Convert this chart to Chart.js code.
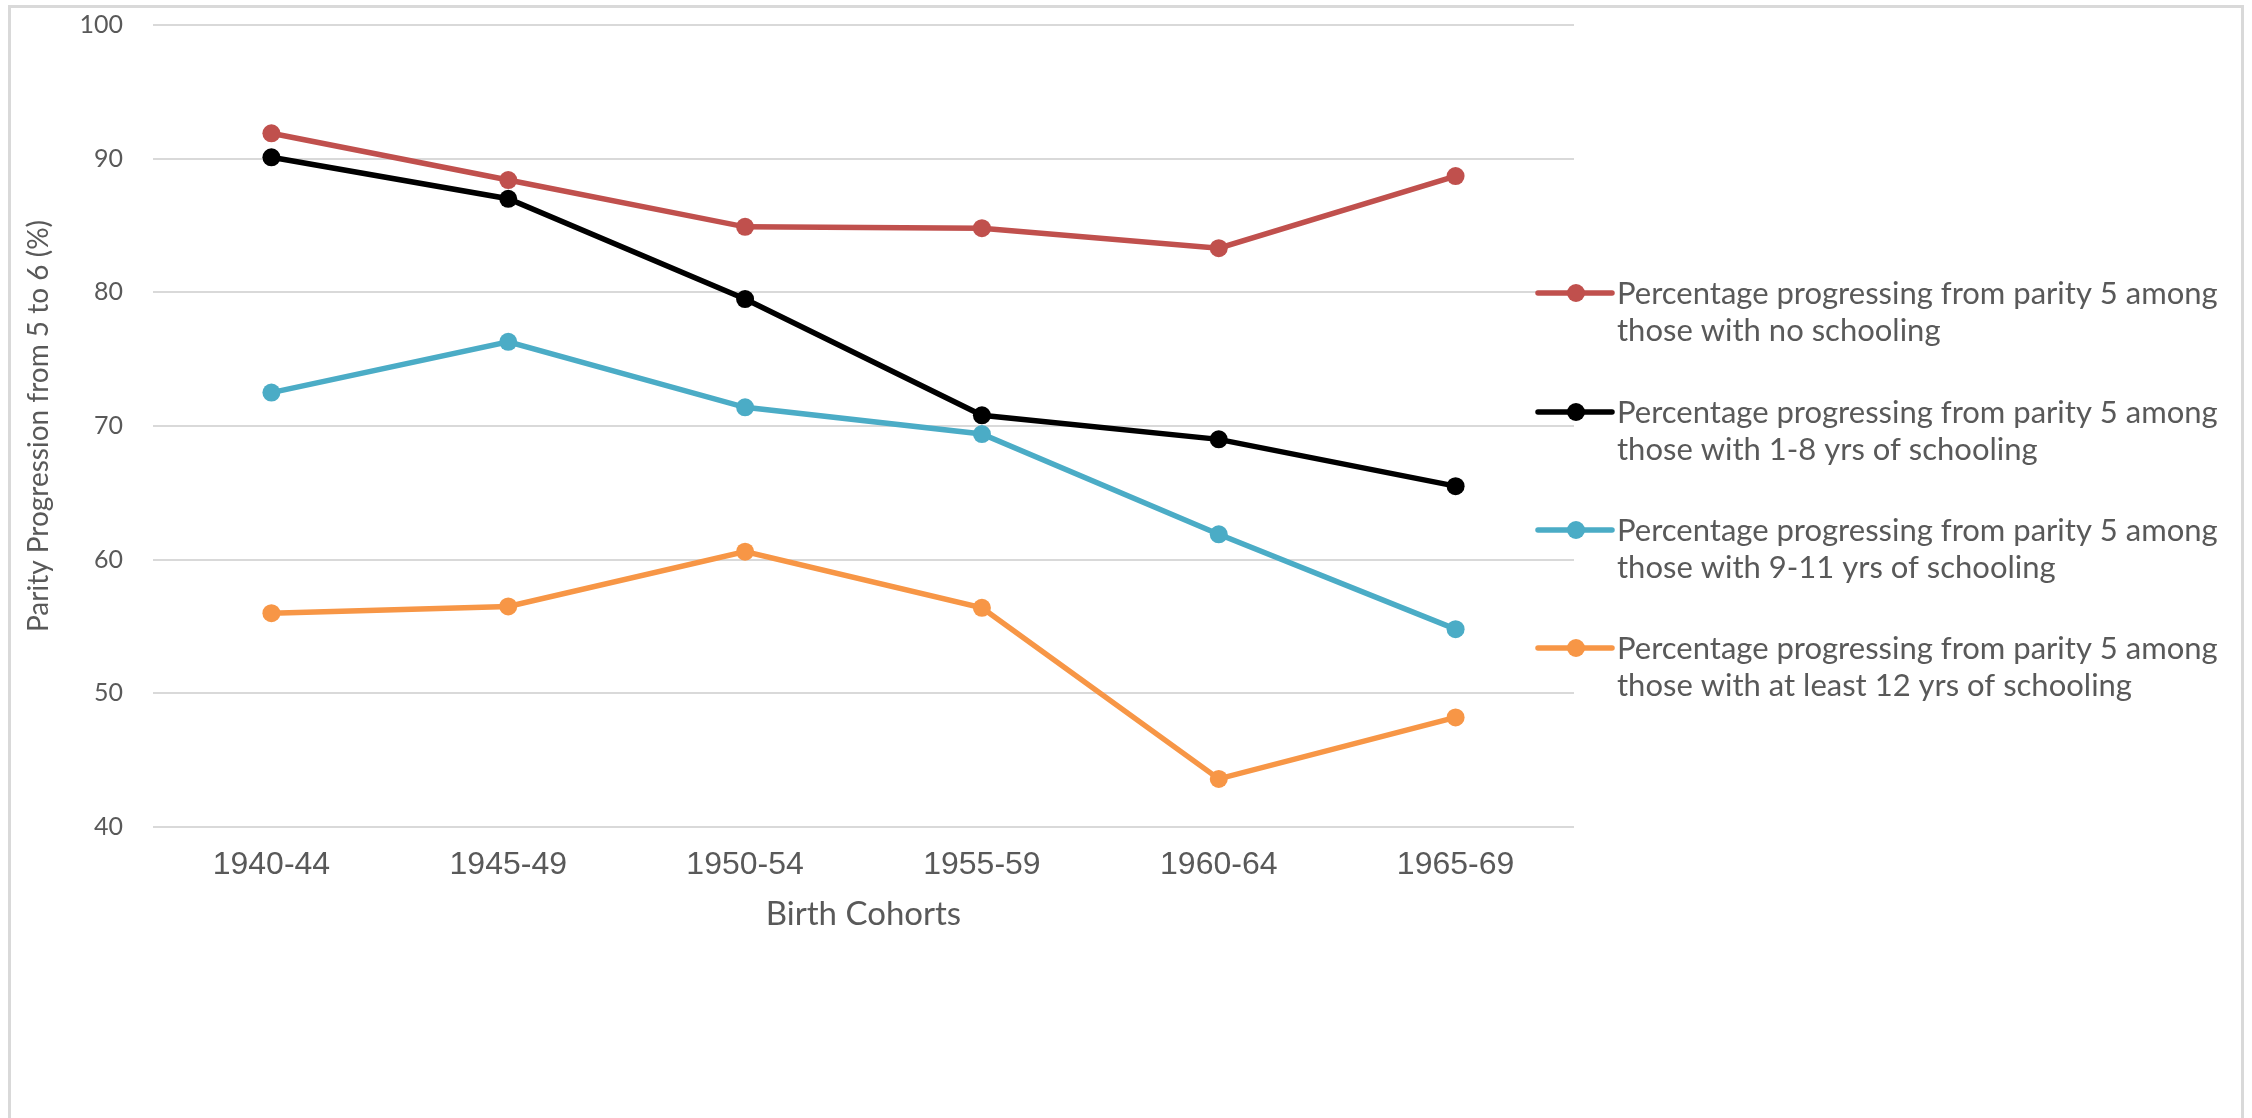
<!DOCTYPE html>
<html>
<head>
<meta charset="utf-8">
<title>Parity Progression from 5 to 6</title>
<script src="https://cdn.jsdelivr.net/npm/chart.js@4.4.1/dist/chart.umd.min.js"></script>
<style>
    html, body { margin: 0; padding: 0; background: #fff; overflow: hidden; }
    .frame {
        position: absolute; left: 8px; top: 5px; width: 2230px; height: 1200px;
        border: 3px solid #d9d9d9; border-bottom: none;
    }
    #canv-chart { position: absolute; left: 0; top: 0; }
</style>
</head>
<body>
<div class="frame"></div>
<canvas id="canv-chart" width="2252" height="1118"></canvas>
<script>
var cohorts = ['1940-44', '1945-49', '1950-54', '1955-59', '1960-64', '1965-69'];

var noSchooling = [91.9, 88.4, 84.9, 84.8, 83.3, 88.7];
var school1to8 = [90.1, 87.0, 79.5, 70.8, 69.0, 65.5];
var school9to11 = [72.5, 76.3, 71.4, 69.4, 61.9, 54.8];
var school12plus = [56.0, 56.5, 60.6, 56.4, 43.6, 48.2];

var seriesLabels = [
    ['Percentage progressing from parity 5 among', 'those with no schooling'],
    ['Percentage progressing from parity 5 among', 'those with 1-8 yrs of schooling'],
    ['Percentage progressing from parity 5 among', 'those with 9-11 yrs of schooling'],
    ['Percentage progressing from parity 5 among', 'those with at least 12 yrs of schooling']
];
var seriesColors = ['#C0504D', '#000000', '#4BACC6', '#F79646'];

var yTicks = [40, 50, 60, 70, 80, 90, 100];

var textGray = '#595959';
var gridGray = '#d9d9d9';

function makeSeries(i, values) {
    return {
        label: seriesLabels[i].join(' '),
        data: values,
        borderColor: seriesColors[i],
        backgroundColor: seriesColors[i],
        borderWidth: 5.5,
        pointRadius: 9,
        pointBorderWidth: 0,
        pointHoverRadius: 9,
        tension: 0,
        // later series sit on top, like the spreadsheet original
        order: 4 - i
    };
}

// legend on the right, two lines of text per series
var sideLegend = {
    id: 'sideLegend',
    afterDraw: function(chart) {
        var ctx = chart.ctx;
        var rows = [293, 412, 530, 648];
        ctx.save();
        for (var i = 0; i < seriesLabels.length; i++) {
            var y = rows[i];
            ctx.strokeStyle = seriesColors[i];
            ctx.lineWidth = 5.5;
            ctx.lineCap = 'round';
            ctx.beginPath();
            ctx.moveTo(1538, y);
            ctx.lineTo(1612, y);
            ctx.stroke();
            ctx.fillStyle = seriesColors[i];
            ctx.beginPath();
            ctx.arc(1576, y, 9, 0, Math.PI * 2);
            ctx.fill();

            ctx.fillStyle = textGray;
            ctx.font = '31px Lato';
            ctx.textAlign = 'left';
            ctx.textBaseline = 'middle';
            ctx.fillText(seriesLabels[i][0], 1617, y + 1);
            ctx.fillText(seriesLabels[i][1], 1617, y + 38);
        }
        ctx.restore();
    }
};

var ctx = document.getElementById('canv-chart');

var myChart = new Chart(ctx, {
    type: 'line',
    data: {
        labels: cohorts,
        datasets: [
            makeSeries(0, noSchooling),
            makeSeries(1, school1to8),
            makeSeries(2, school9to11),
            makeSeries(3, school12plus)
        ]
    },
    options: {
        responsive: false,
        animation: false,
        events: [],
        layout: {
            padding: { left: 0, top: 25, right: 678, bottom: 0 }
        },
        plugins: {
            legend: { display: false },
            tooltip: { enabled: false }
        },
        scales: {
            x: {
                offset: true,
                grid: { display: false, drawTicks: false },
                border: { display: false },
                ticks: {
                    color: textGray,
                    font: { family: 'Liberation Sans', size: 32 },
                    padding: 19,
                    maxRotation: 0
                },
                title: {
                    display: true,
                    text: 'Birth Cohorts',
                    color: textGray,
                    font: { family: 'Lato', size: 33 },
                    padding: { top: 0, bottom: 184 }
                },
                afterFit: function(scale) {
                    scale.height = 291;
                    scale.paddingLeft = 0;
                    scale.paddingRight = 0;
                }
            },
            y: {
                min: 40,
                max: 100,
                afterBuildTicks: function(scale) {
                    scale.ticks = yTicks.map(function(v) { return { value: v }; });
                },
                grid: { color: gridGray, lineWidth: 2, drawTicks: false },
                border: { display: false },
                ticks: {
                    color: textGray,
                    font: { family: 'Lato', size: 25 },
                    padding: 30
                },
                title: {
                    display: true,
                    text: 'Parity Progression from 5 to 6 (%)',
                    color: textGray,
                    font: { family: 'Lato', size: 28 },
                    padding: { top: 22, bottom: 0 }
                },
                afterFit: function(scale) {
                    scale.width = 153;
                    scale.paddingTop = 0;
                    scale.paddingBottom = 0;
                }
            }
        }
    },
    plugins: [sideLegend]
});
</script>
</body>
</html>
